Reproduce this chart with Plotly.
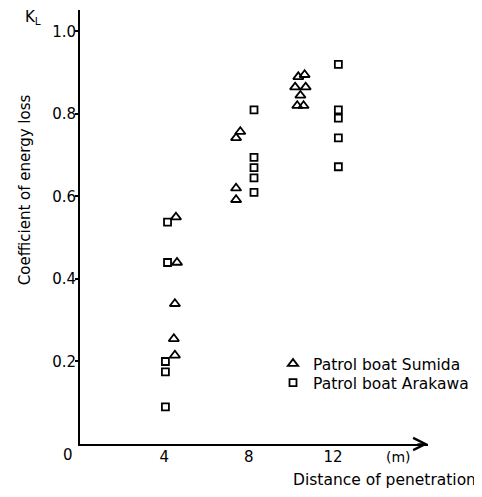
import plotly.graph_objects as go

# Patrol boat Sumida (triangles)
sumida_x = [4.55, 4.6, 4.5, 4.45, 4.5, 7.6, 7.4, 7.4, 7.4,
            10.35, 10.65, 10.2, 10.7, 10.45, 10.3, 10.6]
sumida_y = [0.55, 0.44, 0.34, 0.255, 0.215, 0.757, 0.742, 0.62, 0.592,
            0.89, 0.895, 0.865, 0.865, 0.845, 0.82, 0.82]

# Patrol boat Arakawa (squares)
arakawa_x = [4.15, 4.15, 4.05, 4.05, 4.05, 8.25, 8.25, 8.25, 8.25, 8.25,
             12.25, 12.25, 12.25, 12.25, 12.25]
arakawa_y = [0.538, 0.44, 0.2, 0.175, 0.09, 0.81, 0.695, 0.67, 0.645, 0.61,
             0.92, 0.81, 0.79, 0.742, 0.672]

x_ticks = [4, 8, 12]
x_ticklabels = ["4", "8", "12"]
y_ticks = [0.2, 0.4, 0.6, 0.8, 1.0]
y_ticklabels = ["0.2", "0.4", "0.6", "0.8", "1.0"]

FONT = "DejaVu Sans, sans-serif"

fig = go.Figure()
fig.add_trace(go.Scatter(
    x=sumida_x, y=sumida_y, mode="markers", name="Patrol boat Sumida",
    legend="legend",
    marker=dict(symbol="triangle-up-open", size=9, color="black",
                line=dict(width=1.8, color="black")),
))
fig.add_trace(go.Scatter(
    x=arakawa_x, y=arakawa_y, mode="markers", name="Patrol boat Arakawa",
    legend="legend2",
    marker=dict(symbol="square-open", size=7, color="black",
                line=dict(width=1.8, color="black")),
))

leg_common = dict(xanchor="left", yanchor="middle", bgcolor="rgba(0,0,0,0)",
                  borderwidth=0, font=dict(family=FONT, size=15.5, color="black"),
                  itemwidth=30)

fig.update_layout(
    width=474, height=489,
    margin=dict(l=72, r=54, t=2, b=53),
    paper_bgcolor="white", plot_bgcolor="white",
    font=dict(family=FONT, size=15, color="black"),
    showlegend=True,
    legend=dict(x=0.5546, y=0.1843, **leg_common),
    legend2=dict(x=0.5546, y=0.1406, **leg_common),
    xaxis=dict(range=[0, 16.5], showline=True, linecolor="black", linewidth=1.8,
               tickvals=x_ticks, ticktext=x_ticklabels, ticks="",
               ticklabelstandoff=-2,
               showgrid=False, zeroline=False,
               tickfont=dict(family=FONT, size=15, color="black")),
    yaxis=dict(range=[0, 1.052], showline=True, linecolor="black", linewidth=1.8,
               tickvals=y_ticks, ticktext=y_ticklabels, ticks="outside",
               ticklen=3, tickwidth=1.5, tickcolor="black",
               ticklabelstandoff=-4,
               showgrid=False, zeroline=False,
               tickfont=dict(family=FONT, size=15, color="black")),
)

# arrowhead at end of x axis
fig.add_annotation(x=16.5, y=0, xref="x", yref="y", ax=-12, ay=0,
                   axref="pixel", ayref="pixel", text="", showarrow=True,
                   arrowhead=5, arrowsize=1.6, arrowwidth=1.5, arrowcolor="black")

# texts
fig.add_annotation(x=-0.0345, y=-0.0253, xref="paper", yref="paper", text="0",
                   showarrow=False, xanchor="center", yanchor="middle",
                   font=dict(size=15))
fig.add_annotation(x=0.914, y=-0.030, xref="paper", yref="paper", text="(m)",
                   showarrow=False, xanchor="center", yanchor="middle",
                   font=dict(size=14))
fig.add_annotation(x=0.8736, y=-0.083, xref="paper", yref="paper",
                   text="Distance of penetration",
                   showarrow=False, xanchor="center", yanchor="middle",
                   font=dict(size=15.5))
fig.add_annotation(x=-0.158, y=0.585, xref="paper", yref="paper",
                   text="Coefficient of energy loss", textangle=-90,
                   showarrow=False, xanchor="center", yanchor="middle",
                   font=dict(size=15))
fig.add_annotation(x=-0.135, y=0.982, xref="paper", yref="paper", text="K<sub>L</sub>",
                   showarrow=False, xanchor="center", yanchor="middle",
                   font=dict(size=15))

fig.write_html("out.html")
